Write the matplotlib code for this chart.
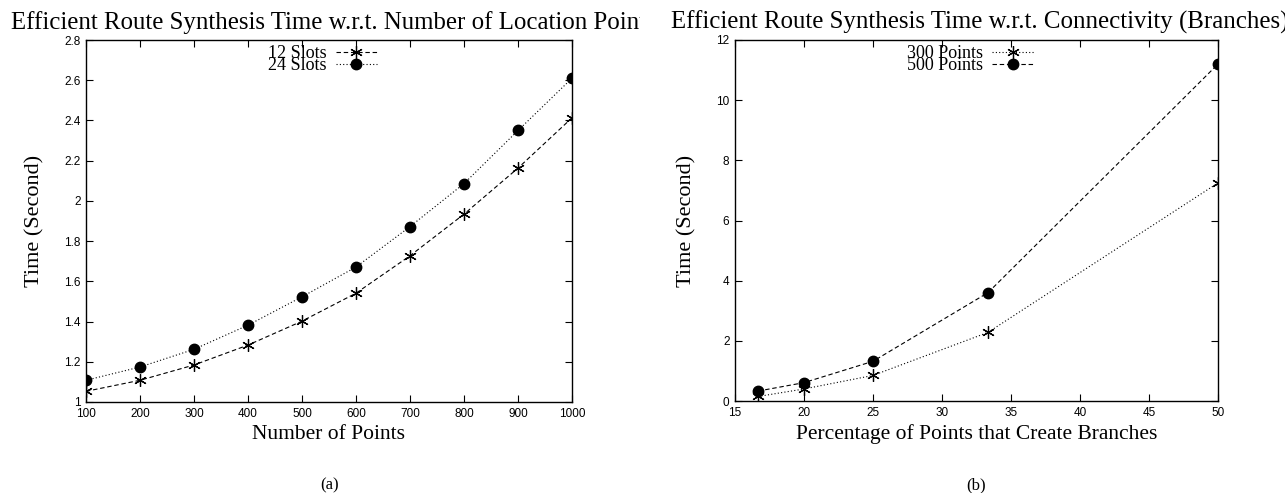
import numpy as np
import matplotlib
matplotlib.use("Agg")
import matplotlib.pyplot as plt
from matplotlib.transforms import Bbox, TransformedBbox
from matplotlib.ticker import FuncFormatter

# Donnees (a) : temps selon le nombre de points
pts_a = [100, 200, 300, 400, 500, 600, 700, 800, 900, 1000]
slots12 = [1.053, 1.108, 1.184, 1.283, 1.402, 1.541, 1.727, 1.934, 2.163, 2.413]
slots24 = [1.108, 1.174, 1.262, 1.382, 1.523, 1.671, 1.872, 2.086, 2.350, 2.610]

# Donnees (b) : temps selon le pourcentage de branches
pct_b = [16.67, 20, 25, 33.33, 50]
pts300 = [0.15, 0.40, 0.85, 2.28, 7.25]
pts500 = [0.33, 0.61, 1.32, 3.60, 11.2]

W, H = 1285, 493
fig = plt.figure(figsize=(W / 100, H / 100), dpi=100)

serif = "Liberation Serif"
sans = "Liberation Sans"

def px_axes(x0, x1, y0, y1):
    # coordonnees en pixels (origine en haut a gauche)
    return fig.add_axes([x0 / W, 1 - y1 / H, (x1 - x0) / W, (y1 - y0) / H])

ax1 = px_axes(86, 572, 40, 402)
ax2 = px_axes(735, 1218, 40, 401)

dash = (0, (4, 2.5))
dot = (0, (1, 2))
lw = 0.8
star = (6, 2, 0)

ax1.plot(pts_a, slots12, color="black", lw=lw, ls=dash, marker=star,
         ms=9, mew=0.9, label="12 Slots")
ax1.plot(pts_a, slots24, color="black", lw=lw, ls=dot, marker="o",
         ms=7.5, label="24 Slots")
ax2.plot(pct_b, pts300, color="black", lw=lw, ls=dot, marker=star,
         ms=9, mew=0.9, label="300 Points")
ax2.plot(pct_b, pts500, color="black", lw=lw, ls=dash, marker="o",
         ms=7.5, label="500 Points")

ax1.set_xlim(100, 1000)
ax1.set_ylim(1, 2.8)
ax1.set_xticks(np.arange(100, 1001, 100))
ax1.set_yticks(np.arange(1, 2.81, 0.2))
ax2.set_xlim(15, 50)
ax2.set_ylim(0, 12)
ax2.set_xticks(np.arange(15, 51, 5))
ax2.set_yticks(np.arange(0, 13, 2))

fmt = FuncFormatter(lambda v, p: "%g" % round(v, 2))
for ax in (ax1, ax2):
    ax.xaxis.set_major_formatter(fmt)
    ax.yaxis.set_major_formatter(fmt)
    ax.tick_params(direction="in", length=5, width=0.8, top=True, right=True,
                   labelsize=8.5, pad=4)
    for lab in ax.get_xticklabels() + ax.get_yticklabels():
        lab.set_family(sans)
    for s in ax.spines.values():
        s.set_linewidth(1.0)
    ax.set_ylabel("Time (Second)", family=serif, fontsize=16, labelpad=14)

ax1.set_xlabel("Number of Points", family=serif, fontsize=15.5, labelpad=4)
ax2.set_xlabel("Percentage of Points that Create Branches", family=serif,
               fontsize=15.5, labelpad=4)

leg_kw = dict(frameon=False, markerfirst=False, numpoints=1, loc="upper right",
              prop={"family": serif, "size": 13}, handlelength=2.3,
              handletextpad=0.5, labelspacing=-0.3, borderpad=0,
              borderaxespad=0)
ax1.legend(bbox_to_anchor=(0.599, 0.985), **leg_kw)
ax2.legend(bbox_to_anchor=(0.619, 0.985), **leg_kw)

# titres coupes au bord de chaque panneau
titles = [("Efficient Route Synthesis Time w.r.t. Number of Location Points", 333, 0, 0.498),
          ("Efficient Route Synthesis Time w.r.t. Connectivity (Branches)", 980, 0.498, 1.0)]
for txt, xc, c0, c1 in titles:
    t = fig.text(xc / W, 1 - 29 / H, txt, ha="center", va="baseline",
                 family=serif, fontsize=17.9)
    t.set_clip_box(TransformedBbox(Bbox([[c0, 0], [c1, 1]]), fig.transFigure))
    t.set_clip_on(True)

fig.text(330 / W, 1 - 485 / H, "(a)", ha="center", va="center", family=serif, fontsize=12)
fig.text(976 / W, 1 - 485 / H, "(b)", ha="center", va="center", family=serif, fontsize=12)

fig.savefig("out.png", dpi=100)
